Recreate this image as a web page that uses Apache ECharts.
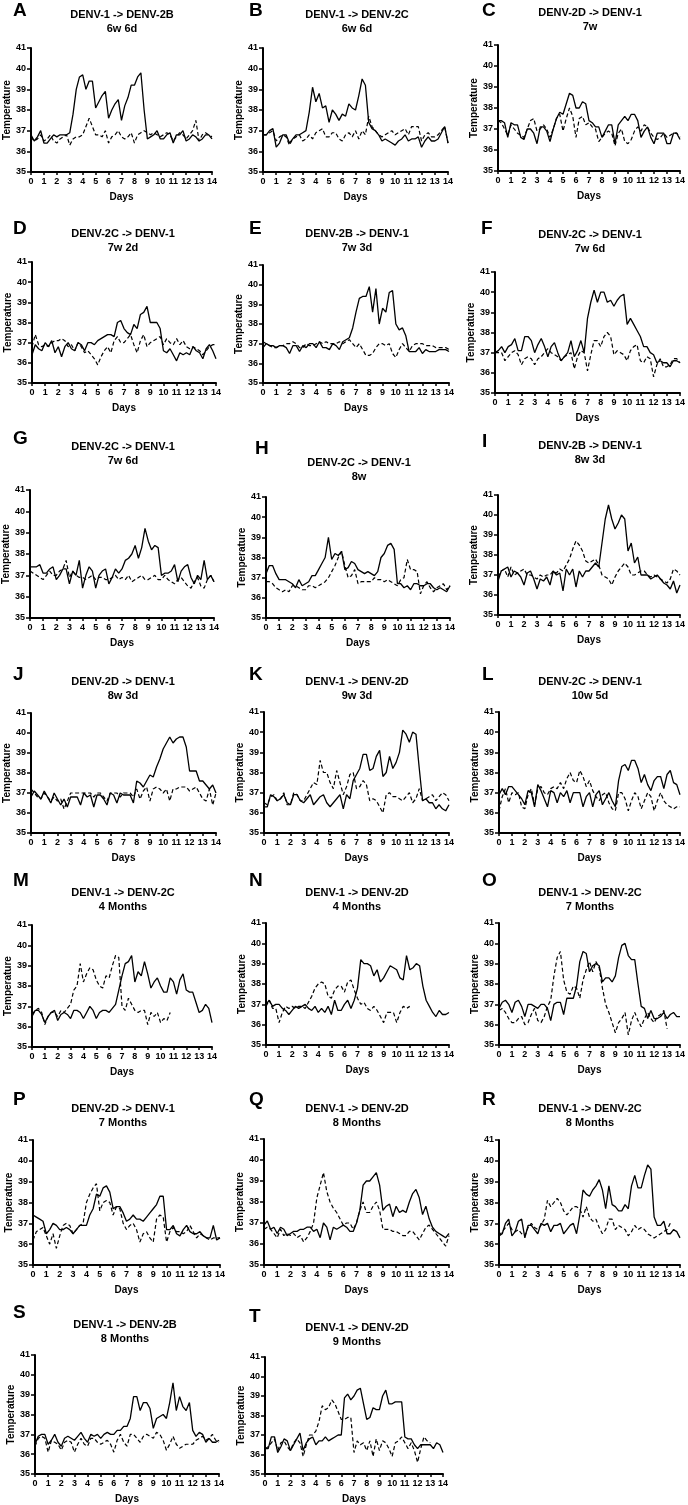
<!DOCTYPE html>
<html>
<head>
<meta charset="utf-8">
<script src="https://cdn.jsdelivr.net/npm/echarts@6/dist/echarts.min.js"></script>
<style>
html,body{margin:0;padding:0;background:#fff;}
#chart{width:688px;height:1505px;}
</style>
</head>
<body>
<div id="chart"></div>
<script>
// ---------- DATA ----------
const STEP_DAYS = 0.25; // one reading every 6 hours
const panelLetters = ["A","B","C","D","E","F","G","H","I","J","K","L","M","N","O","P","Q","R","S","T"];
const titleLine1 = ["DENV-1 -> DENV-2B","DENV-1 -> DENV-2C","DENV-2D -> DENV-1","DENV-2C -> DENV-1","DENV-2B -> DENV-1","DENV-2C -> DENV-1","DENV-2C -> DENV-1","DENV-2C -> DENV-1","DENV-2B -> DENV-1","DENV-2D -> DENV-1","DENV-1 -> DENV-2D","DENV-2C -> DENV-1","DENV-1 -> DENV-2C","DENV-1 -> DENV-2D","DENV-1 -> DENV-2C","DENV-2D -> DENV-1","DENV-1 -> DENV-2D","DENV-1 -> DENV-2C","DENV-1 -> DENV-2B","DENV-1 -> DENV-2D"];
const titleLine2 = ["6w 6d","6w 6d","7w","7w 2d","7w 3d","7w 6d","7w 6d","8w","8w 3d","8w 3d","9w 3d","10w 5d","4 Months","4 Months","7 Months","7 Months","8 Months","8 Months","8 Months","9 Months"];
const dayTicks = [0,14,1];      // min, max, step of the Days axis
const tempTicks = [35,41,1];    // min, max, step of the Temperature axis

const A_solid = [36.8,36.5,36.7,37.0, 36.4,36.4,36.6,36.8, 36.7,36.8,36.8,36.8, 36.9,37.8,39.0,39.6, 39.7,39.0,39.4,39.4, 38.1,38.4,38.7,38.9, 37.6,38.0,38.3,38.5, 37.5,38.2,38.6,39.2, 39.2,39.6,39.8,38.0, 36.6,36.7,36.8,37.0, 36.6,36.6,36.8,36.9, 36.4,36.8,36.8,37.0, 36.5,36.6,36.8,36.7, 36.5,36.6,36.8,36.8, 36.6];
const A_dashed = [36.7,36.5,36.6,36.8, 36.5,36.6,36.8,36.5, 36.4,36.6,36.7,36.8, 36.3,36.6,36.7,36.7, 36.8,37.2,37.6,37.2, 36.8,36.8,36.7,37.0, 36.4,36.7,36.8,37.0, 36.7,36.6,36.7,36.9, 36.4,36.8,36.9,37.0, 36.9,36.8,36.9,36.8, 36.7,36.8,36.9,36.8, 36.5,36.7,36.9,36.8, 36.6,36.8,37.0,37.5, 36.5,36.8,36.9,36.8, 36.7];
const B_solid = [36.8,36.8,37.0,37.1, 36.2,36.4,36.8,36.8, 36.4,36.6,36.8,36.8, 36.9,37.0,37.9,39.1, 38.4,38.8,38.1,38.2, 37.4,38.0,37.8,37.5, 37.8,37.7,38.3,38.1, 38.0,38.7,39.5,39.2, 37.4,37.1,37.0,36.8, 36.5,36.6,36.5,36.4, 36.3,36.5,36.6,36.8, 36.5,36.6,36.6,36.7, 36.2,36.5,36.7,36.5, 36.5,36.6,36.9,37.2, 36.4];
const B_dashed = [36.8,36.8,36.9,37.0, 36.5,36.7,36.8,36.7, 36.3,36.6,36.7,36.8, 36.5,36.6,36.8,36.6, 36.9,37.0,37.1,36.7, 36.7,36.9,36.9,36.6, 36.5,36.8,36.9,36.7, 37.0,36.6,37.0,36.8, 37.7,37.2,37.0,36.8, 36.7,36.8,36.9,37.0, 36.8,36.9,37.0,37.1, 36.8,37.2,37.2,37.2, 36.5,36.8,36.9,36.7, 36.7,36.8,37.0,37.2, 36.4];
const C_solid = [37.4,37.4,37.3,36.6, 37.3,37.2,37.2,36.6, 36.5,37.0,37.0,36.8, 36.3,37.1,37.1,36.9, 36.4,37.0,37.5,37.8, 37.7,38.2,38.7,38.6, 38.0,38.0,38.3,38.2, 37.4,37.3,37.1,37.1, 36.6,36.9,37.2,37.2, 36.3,37.2,37.4,37.6, 37.4,37.7,37.7,37.4, 36.6,36.9,37.1,36.6, 36.3,36.8,36.8,36.8, 36.3,36.3,36.8,36.8, 36.5];
const C_dashed = [37.4,37.3,37.0,36.7, 37.2,37.0,36.8,36.7, 36.6,37.0,37.4,37.5, 36.9,37.0,37.2,37.0, 36.6,37.0,37.5,37.7, 36.9,37.5,38.0,37.6, 36.6,37.5,37.6,37.2, 37.3,37.1,37.0,36.4, 36.6,36.8,36.9,36.8, 36.2,36.8,37.0,36.4, 36.3,36.5,36.9,37.1, 36.9,37.2,37.1,36.8, 36.6,36.5,36.6,36.8, 36.6,36.7,36.8,36.8, 36.6];
const D_solid = [36.4,36.9,36.7,36.6, 37.0,36.8,37.1,36.5, 36.8,36.3,36.8,37.0, 36.7,36.6,37.0,36.9, 36.6,37.0,37.0,36.9, 37.1,37.2,37.3,37.4, 37.4,37.3,38.0,38.1, 37.7,37.5,37.4,37.9, 37.7,38.4,38.5,38.8, 38.0,38.0,38.0,37.7, 36.6,36.5,36.7,36.4, 36.1,36.5,36.4,36.5, 36.4,36.8,36.6,36.5, 36.2,36.7,36.9,36.6, 36.2];
const D_dashed = [36.8,37.4,36.9,36.8, 36.9,36.8,37.0,37.1, 37.1,37.2,37.1,36.8, 36.9,36.6,37.0,36.8, 36.5,36.6,36.4,36.2, 35.9,36.3,36.6,36.8, 36.5,37.1,37.3,37.0, 37.0,37.2,37.4,36.9, 36.5,37.1,37.4,36.8, 37.0,37.1,37.2,37.3, 36.9,37.2,37.0,36.9, 37.2,36.9,37.1,36.8, 36.7,36.8,36.7,36.6, 36.4,36.6,36.8,36.9, 36.9];
const E_solid = [36.8,37.0,36.9,36.9, 36.8,36.9,36.9,36.8, 36.5,36.9,36.9,36.6, 36.9,36.8,37.0,37.0, 36.8,37.1,36.8,36.8, 36.7,37.0,36.9,36.7, 37.1,37.2,37.3,37.8, 38.6,39.3,39.4,39.4, 39.9,38.6,39.8,38.0, 38.8,38.6,39.6,39.7, 38.0,37.7,37.8,37.4, 36.6,36.6,36.6,36.8, 36.5,36.7,36.6,36.6, 36.6,36.7,36.7,36.7, 36.6];
const E_dashed = [37.1,37.0,36.9,36.8, 36.8,36.9,36.9,37.0, 37.0,37.1,37.0,36.8, 36.8,37.0,36.9,36.9, 37.0,37.1,37.0,37.1, 37.0,37.0,37.0,37.1, 37.0,37.1,37.2,37.0, 36.8,37.0,36.7,36.4, 36.4,36.5,36.8,37.0, 37.0,36.9,37.0,36.5, 36.3,36.7,37.0,36.8, 36.6,36.9,37.0,37.0, 37.0,36.9,36.9,36.9, 36.8,36.8,36.8,36.8, 36.7];
const F_solid = [37.0,37.1,37.3,37.0, 37.3,37.4,37.7,37.1, 37.1,37.8,37.8,37.6, 37.0,37.4,37.7,37.3, 36.8,37.3,37.5,37.0, 36.6,36.8,37.0,37.6, 36.8,37.1,37.6,37.0, 38.7,39.5,40.1,39.5, 40.0,40.0,39.5,39.6, 39.3,39.6,39.8,39.9, 38.4,38.7,38.4,38.1, 37.8,37.3,37.3,37.0, 36.9,36.5,36.6,36.5, 36.5,36.3,36.6,36.6, 36.5];
const F_dashed = [37.0,37.0,37.0,36.6, 36.8,37.0,37.1,36.9, 36.4,36.7,36.8,36.7, 36.4,36.7,36.8,37.0, 37.2,37.0,36.9,36.8, 36.6,36.8,36.9,37.0, 36.2,36.8,37.1,37.0, 36.1,36.9,37.6,37.6, 37.3,37.8,38.0,37.8, 36.9,37.1,37.0,36.9, 36.6,37.1,37.3,37.4, 36.6,36.5,36.8,36.7, 35.8,36.4,36.7,36.3, 36.3,36.4,36.7,36.7, 36.5];
const G_solid = [37.4,37.4,37.4,37.5, 37.1,37.1,37.3,37.4, 36.8,37.0,37.3,37.3, 36.6,37.2,37.0,37.7, 36.4,37.0,37.4,37.2, 36.4,37.0,37.2,37.3, 36.6,36.9,37.3,37.1, 37.3,37.7,37.8,38.0, 38.4,37.8,38.3,39.2, 38.6,38.2,38.4,38.3, 37.0,37.1,37.1,37.2, 37.5,36.7,37.2,37.4, 37.5,36.9,36.6,37.0, 36.8,37.7,36.8,37.0, 36.7];
const G_dashed = [37.2,37.1,37.0,36.9, 36.8,37.0,37.2,37.0, 37.0,37.2,37.3,37.7, 36.9,37.2,37.0,36.9, 36.9,36.8,36.9,37.0, 36.8,36.9,36.9,36.8, 36.8,36.9,37.0,36.8, 36.9,36.8,37.0,36.7, 36.8,36.9,37.0,36.8, 36.8,36.9,37.0,36.8, 36.8,37.0,36.8,36.7, 36.6,36.8,36.9,36.7, 36.5,36.4,36.7,36.9, 36.5,36.4,36.8,37.0, 36.7];
const H_solid = [37.2,37.6,37.6,37.2, 36.9,36.9,36.9,36.8, 36.7,36.5,36.9,36.6, 36.7,36.8,37.1,37.1, 37.4,37.7,38.0,39.0, 37.9,38.2,38.1,38.3, 37.4,37.5,37.8,37.7, 37.4,37.3,37.2,37.3, 37.2,37.1,37.3,38.0, 38.2,38.6,38.7,38.4, 36.7,36.7,36.5,36.6, 36.4,36.7,36.7,36.6, 36.6,36.7,36.7,36.5, 36.4,36.5,36.4,36.3, 36.6];
const H_dashed = [36.8,36.8,36.7,36.5, 36.4,36.3,36.4,36.3, 36.6,36.6,36.5,36.4, 36.4,36.6,36.6,36.5, 36.6,36.7,36.8,37.0, 37.3,37.6,38.0,38.3, 37.6,37.0,37.1,37.4, 36.7,36.8,36.8,36.8, 36.8,37.0,36.9,36.9, 36.8,36.9,36.8,36.7, 36.6,36.9,37.0,37.9, 37.4,37.4,37.3,36.2, 36.6,36.8,36.5,36.3, 36.5,36.6,36.7,36.4, 36.6];
const I_solid = [36.7,37.2,37.3,37.4, 36.9,37.2,37.1,36.9, 36.5,37.1,37.2,36.8, 36.3,36.8,36.7,36.9, 36.5,37.2,37.0,37.1, 36.2,37.3,37.0,37.3, 36.4,37.2,36.9,37.2, 37.2,37.4,37.6,37.4, 38.6,39.8,40.5,39.8, 39.3,39.6,40.0,39.8, 38.2,38.6,37.6,37.9, 37.0,37.0,37.0,36.8, 36.9,37.0,36.8,36.6, 36.5,36.3,36.7,36.1, 36.5];
const I_dashed = [36.9,37.2,37.3,36.9, 37.4,37.0,37.1,37.2, 37.3,37.0,37.0,36.9, 36.8,37.0,36.9,37.0, 37.0,37.2,37.1,37.3, 37.2,37.5,37.8,38.3, 38.7,38.5,38.2,37.7, 37.6,37.7,37.8,37.5, 37.0,36.9,36.8,36.5, 36.9,37.2,37.4,37.6, 37.4,37.0,37.0,37.1, 37.2,37.2,37.0,36.9, 37.0,36.9,36.8,36.7, 36.6,36.8,37.3,37.2, 37.0];
const J_solid = [36.8,37.1,36.9,36.7, 37.1,36.8,36.5,37.0, 36.7,36.4,36.7,36.3, 36.8,36.8,36.8,36.4, 37.0,36.8,36.9,36.3, 36.9,36.9,36.7,36.4, 37.0,36.9,36.5,37.0, 36.9,36.9,36.9,36.5, 37.6,37.5,37.3,37.6, 37.9,37.8,38.3,38.7, 39.2,39.5,39.8,39.5, 39.7,39.8,39.8,39.3, 38.1,38.1,38.1,37.6, 37.6,37.4,37.2,37.4, 37.0];
const J_dashed = [37.2,37.0,36.8,36.7, 37.0,36.8,36.6,36.8, 36.6,36.7,36.2,36.6, 37.0,37.0,37.0,37.0, 37.0,37.0,37.0,36.8, 37.0,37.0,36.8,36.6, 37.0,37.0,37.0,36.8, 37.0,37.0,37.0,36.8, 37.2,36.7,37.1,37.3, 36.6,37.2,37.3,37.2, 37.0,37.2,36.6,37.2, 37.2,37.3,37.3,37.3, 37.1,37.2,37.3,37.0, 36.7,36.6,37.2,36.4, 37.0];
const K_solid = [36.3,36.3,36.9,36.8, 36.6,36.7,36.9,36.5, 36.4,36.9,36.9,36.6, 36.5,36.7,36.9,36.4, 36.6,36.8,36.9,36.5, 36.3,36.5,36.7,36.9, 36.2,36.9,36.7,37.6, 37.9,38.2,38.9,38.9, 38.1,38.2,38.8,39.1, 37.8,38.0,38.8,38.2, 38.5,39.0,40.1,39.9, 39.5,40.0,39.9,38.2, 36.6,36.7,36.5,36.5, 36.2,36.4,36.2,36.1, 36.4];
const K_dashed = [36.5,36.4,36.8,36.9, 36.6,36.7,37.0,36.4, 36.4,37.0,36.9,36.6, 36.6,36.9,37.2,37.5, 37.4,38.6,38.0,38.0, 37.5,37.2,38.1,37.5, 36.9,37.3,37.9,38.0, 37.2,37.3,37.6,37.4, 36.6,36.7,36.6,36.3, 36.0,36.9,37.0,36.8, 36.8,36.7,36.6,36.8, 37.0,36.5,36.7,37.2, 36.6,36.7,36.8,36.9, 36.6,36.8,37.0,36.9, 36.6];
const L_solid = [36.9,37.2,36.9,37.3, 37.3,37.1,36.9,36.7, 36.4,37.1,37.0,36.3, 37.4,37.1,36.7,36.3, 37.1,37.0,36.5,37.0, 36.8,37.1,36.5,37.0, 37.0,37.0,36.3,36.8, 37.0,36.3,36.9,37.1, 36.4,36.7,37.0,36.6, 36.3,37.6,38.3,38.4, 38.1,38.6,38.6,38.2, 37.5,37.9,37.4,37.1, 37.6,37.8,37.8,37.2, 37.9,38.1,37.5,37.4, 36.9];
const L_dashed = [36.1,36.8,37.2,36.5, 37.0,36.9,37.0,36.3, 36.2,36.9,37.2,36.4, 37.2,37.3,37.0,36.9, 37.2,37.3,37.2,37.5, 37.2,37.7,38.0,37.6, 37.5,38.1,37.8,37.3, 37.6,37.1,36.8,36.6, 36.9,37.0,36.5,36.2, 36.1,37.0,37.0,36.7, 36.1,36.6,37.0,36.8, 36.2,36.6,37.0,36.8, 36.1,36.6,37.0,36.6, 36.4,36.3,36.2,36.3, 36.3];
const M_solid = [36.5,36.8,36.8,36.6, 36.2,36.5,36.7,36.8, 36.3,36.6,36.7,36.6, 36.4,36.8,36.8,36.7, 36.4,36.7,37.0,36.8, 36.4,36.7,36.8,36.8, 36.7,36.9,37.1,37.8, 38.5,39.1,39.2,39.5, 38.2,38.7,38.5,39.2, 38.6,37.9,38.2,38.4, 38.0,37.7,37.7,38.4, 38.2,37.6,38.3,38.6, 37.8,37.7,37.7,37.2, 36.7,36.8,37.1,36.9, 36.2];
const M_dashed = [36.6,36.8,36.9,36.7, 36.1,36.5,36.7,36.7, 36.5,36.8,36.7,36.9, 37.1,37.8,38.0,39.1, 38.2,38.6,38.9,38.8, 38.3,38.0,37.9,38.5, 38.4,39.0,39.5,39.4, 37.0,36.8,37.4,37.1, 36.8,36.7,36.8,36.8, 36.1,36.7,36.5,36.7, 36.2,36.4,36.3,36.7];
const N_solid = [37.0,37.2,36.9,37.0, 37.0,36.8,36.7,36.5, 36.7,36.9,36.8,36.9, 37.0,36.8,36.7,36.9, 36.6,36.8,36.6,36.9, 36.5,37.2,36.7,36.7, 37.0,37.2,36.8,37.2, 37.8,39.2,39.0,39.0, 38.9,38.4,38.7,38.1, 38.3,38.6,38.9,38.8, 38.7,38.3,38.2,39.4, 38.7,38.8,39.0,38.9, 37.9,37.2,36.9,36.6, 36.4,36.7,36.5,36.5, 36.6];
const N_dashed = [36.9,37.2,36.8,36.8, 36.1,36.6,36.9,36.8, 36.9,36.8,36.9,36.9, 36.8,37.1,37.4,37.8, 38.0,38.1,38.0,37.4, 37.3,37.7,37.9,37.9, 37.6,38.1,38.2,37.7, 37.3,37.0,37.1,36.8, 36.7,36.9,36.7,36.4, 36.1,36.6,36.6,36.6, 36.1,36.6,36.9,36.8, 36.9];
const O_solid = [36.8,37.1,37.2,37.0, 36.6,37.1,37.2,36.9, 36.4,37.0,37.0,36.9, 36.8,37.0,37.0,36.8, 36.2,37.0,37.1,37.1, 36.5,37.3,37.3,37.3, 37.9,39.1,39.6,39.5, 38.6,38.9,39.0,38.9, 38.1,38.3,38.3,38.1, 38.4,39.3,39.9,40.0, 39.4,39.2,39.2,38.0, 36.9,36.8,36.3,36.7, 36.3,36.3,36.4,36.6, 36.3,36.5,36.6,36.4, 36.4];
const O_dashed = [36.7,36.8,36.6,36.3, 36.1,36.1,36.3,36.4, 36.0,36.1,36.5,36.8, 36.2,36.1,36.4,36.9, 37.2,38.4,39.3,39.6, 38.2,37.6,37.5,37.9, 37.8,37.3,38.2,38.7, 39.1,38.6,39.1,38.8, 37.8,37.0,36.6,36.1, 35.6,36.1,36.3,36.6, 35.5,36.2,36.6,36.2, 35.9,36.3,36.6,36.3, 36.1,36.4,36.5,36.7, 35.8];
const P_solid = [37.4,37.3,37.2,37.1, 36.5,36.7,37.0,36.9, 36.7,36.7,36.8,36.7, 36.5,36.7,36.9,36.9, 36.9,37.4,37.7,38.4, 38.3,38.7,38.8,38.5, 37.7,37.8,37.8,37.5, 37.1,37.2,37.4,37.2, 37.2,37.1,37.3,37.5, 37.7,37.9,38.3,38.3, 36.7,36.7,36.9,36.5, 36.4,36.7,36.9,36.6, 36.5,36.5,36.6,36.4, 36.3,36.3,36.9,36.2, 36.3];
const P_dashed = [36.2,36.6,36.7,36.8, 36.4,36.0,36.5,35.8, 36.4,36.9,37.0,36.9, 36.5,36.7,36.9,37.0, 38.0,38.4,38.7,38.9, 37.6,38.0,38.1,38.0, 37.4,37.8,37.7,37.0, 36.7,36.9,37.0,36.7, 36.1,36.5,36.6,36.3, 36.1,37.2,37.4,37.3, 36.1,36.6,36.8,36.6, 36.6,36.5,36.6,36.9, 36.6,36.3,36.5,36.4, 36.3,36.2,36.3,36.3, 36.3];
const Q_solid = [36.9,37.1,36.7,36.8, 36.5,36.8,36.7,36.4, 36.5,36.6,36.6,36.7, 36.7,36.8,36.8,36.6, 36.7,36.3,37.0,36.8, 36.2,36.8,36.7,36.8, 36.9,36.8,36.6,36.6, 37.0,37.6,38.8,39.0, 39.0,39.2,39.4,38.8, 37.6,37.8,37.9,37.3, 37.8,37.5,37.6,37.5, 38.0,38.4,38.6,38.2, 37.4,37.8,37.2,36.8, 36.6,36.5,36.4,36.3, 36.5];
const Q_dashed = [36.7,36.8,36.7,36.5, 36.3,36.7,36.4,36.5, 36.4,36.5,36.3,36.4, 36.1,36.3,36.6,37.0, 38.2,38.8,39.4,38.5, 38.0,37.7,37.5,37.2, 36.9,37.0,37.0,36.7, 37.0,37.6,38.0,37.5, 37.5,37.8,38.0,37.6, 36.7,36.7,36.7,36.6, 36.6,36.5,36.4,36.4, 36.6,36.6,36.4,36.2, 36.5,36.8,36.9,36.7, 36.5,36.3,36.1,35.9, 36.4];
const R_solid = [36.4,36.5,37.0,37.2, 36.4,36.6,37.1,37.2, 36.3,36.9,36.9,36.7, 36.5,37.0,36.9,37.0, 36.6,36.9,36.9,37.0, 36.5,36.7,36.9,37.0, 36.5,37.4,38.6,38.4, 38.3,38.6,38.8,39.1, 38.6,37.7,38.8,37.9, 37.8,37.6,37.6,37.9, 37.7,38.8,39.3,38.7, 38.7,39.3,39.8,39.6, 37.3,36.9,36.9,37.1, 36.5,36.5,36.7,36.6, 36.3];
const R_dashed = [36.4,36.6,36.8,37.0, 36.7,36.6,36.7,36.5, 36.4,36.8,37.0,36.8, 36.7,36.9,37.2,38.1, 37.8,38.0,38.2,38.0, 37.6,37.4,37.6,37.8, 37.8,37.7,37.3,37.8, 37.3,37.1,37.2,36.8, 36.5,36.7,37.2,37.2, 36.7,36.9,36.8,36.7, 36.4,36.6,36.9,36.7, 36.8,36.7,36.5,36.4, 36.3,36.4,36.5,36.6, 36.7,37.0];
const S_solid = [36.5,36.9,37.0,37.0, 36.5,36.7,37.0,36.6, 36.4,36.8,36.9,36.8, 36.7,36.9,37.1,36.8, 36.6,37.0,36.9,37.0, 36.8,37.0,37.1,37.0, 37.0,37.2,37.2,37.4, 37.4,37.8,38.9,38.9, 38.2,38.6,38.6,38.3, 37.3,37.8,37.9,38.0, 37.8,38.6,39.6,38.2, 38.9,38.4,38.2,38.6, 37.2,36.9,37.1,37.0, 36.6,36.8,36.6,36.6, 36.7];
const S_dashed = [36.4,36.8,36.9,36.8, 36.1,36.7,36.6,36.5, 36.2,36.6,36.7,36.6, 36.1,36.5,36.8,36.5, 36.4,36.8,36.8,36.6, 36.5,36.6,36.7,36.5, 36.1,36.7,37.0,36.6, 36.4,37.0,37.0,36.8, 36.6,36.9,37.0,36.9, 36.8,37.1,37.0,36.7, 36.2,36.5,36.9,36.5, 36.3,36.4,36.5,36.5, 36.5,36.7,36.8,36.9, 36.7,36.8,37.0,36.7, 36.6];
const T_solid = [36.3,36.3,36.9,36.9, 36.1,36.4,36.8,36.7, 36.2,36.5,36.8,37.1, 36.2,36.6,36.8,36.9, 36.5,36.7,36.7,36.9, 36.7,36.8,36.9,37.0, 37.0,38.9,39.1,38.8, 39.0,39.3,39.4,38.6, 37.8,37.9,38.4,38.3, 38.3,39.0,39.3,38.6, 38.6,38.7,38.7,38.7, 36.9,36.8,36.8,36.5, 36.3,36.5,36.5,36.5, 36.5,36.3,36.6,36.5, 36.1];
const T_dashed = [36.3,36.4,36.6,36.8, 36.2,36.6,36.7,36.4, 36.2,36.6,36.8,36.6, 35.9,36.5,37.0,37.0, 37.2,37.7,38.5,38.3, 38.4,38.8,38.6,38.2, 37.8,37.8,37.9,37.9, 36.1,36.7,36.5,36.6, 36.2,36.7,35.9,36.8, 36.2,36.7,36.6,36.3, 35.9,36.6,36.7,36.9, 36.6,36.3,36.6,36.2, 35.6,36.3,36.9,36.7, 36.6];

const solidSeries = [A_solid,B_solid,C_solid,D_solid,E_solid,F_solid,G_solid,H_solid,I_solid,J_solid,K_solid,L_solid,M_solid,N_solid,O_solid,P_solid,Q_solid,R_solid,S_solid,T_solid];
const dashedSeries = [A_dashed,B_dashed,C_dashed,D_dashed,E_dashed,F_dashed,G_dashed,H_dashed,I_dashed,J_dashed,K_dashed,L_dashed,M_dashed,N_dashed,O_dashed,P_dashed,Q_dashed,R_dashed,S_dashed,T_dashed];

// ---------- LAYOUT (pixel boxes: plot left, right, top, bottom; letter x,y; title x,y) ----------
const panelBoxes = [
  [31,212,48,172, 13,4, 122,15],
  [263,448,48,172, 249,4, 357,15],
  [498,681,45,171, 482,4, 590,13],
  [32,216,262,383, 13,222, 123,234],
  [263,449,265,383, 249,222, 357,234],
  [495,682,272,393, 481,222, 590,235],
  [30,214,490,618, 13,432, 123,447],
  [266,450,497,618, 255,442, 359,463],
  [498,682,495,615, 482,435, 590,446],
  [31,216,713,833, 13,668, 123,682],
  [264,449,712,833, 249,668, 357,682],
  [499,682,712,833, 482,668, 590,682],
  [32,212,925,1047, 13,874, 123,893],
  [266,449,923,1045, 249,874, 357,893],
  [499,682,923,1045, 482,874, 590,893],
  [33,220,1140,1265, 13,1093, 123,1109],
  [264,449,1139,1265, 249,1093, 357,1109],
  [499,682,1140,1265, 482,1093, 590,1109],
  [35,219,1355,1476, 13,1306, 125,1325],
  [265,443,1357,1476, 249,1310, 357,1328]
];

const FONT = "'Liberation Sans', Arial, sans-serif";
const grids = [], xAxes = [], yAxes = [], series = [], graphics = [];

panelBoxes.forEach((b, i) => {
  const [l, r, t, bt, lx, ly, tx, ty] = b;
  grids.push({ left: l, top: t, width: r - l, height: bt - t, containLabel: false });
  xAxes.push({
    gridIndex: i, type: 'value', min: dayTicks[0], max: dayTicks[1], interval: dayTicks[2],
    name: 'Days', nameLocation: 'middle', nameGap: 20,
    nameTextStyle: { fontFamily: FONT, fontWeight: 'bold', fontSize: 10, color: '#000' },
    axisLine: { show: true, onZero: false, lineStyle: { color: '#000', width: 2 } },
    axisTick: { show: true, length: 3, lineStyle: { color: '#000', width: 1.5 } },
    axisLabel: { show: true, fontFamily: FONT, fontWeight: 'bold', fontSize: 9, color: '#000', margin: 5, hideOverlap: false },
    splitLine: { show: false }
  });
  yAxes.push({
    gridIndex: i, type: 'value', min: tempTicks[0], max: tempTicks[1], interval: tempTicks[2],
    name: 'Temperature', nameLocation: 'middle', nameGap: 19,
    nameTextStyle: { fontFamily: FONT, fontWeight: 'bold', fontSize: 10, color: '#000' },
    axisLine: { show: true, onZero: false, lineStyle: { color: '#000', width: 2 } },
    axisTick: { show: true, length: 4, lineStyle: { color: '#000', width: 1.5 } },
    axisLabel: { show: true, fontFamily: FONT, fontWeight: 'bold', fontSize: 9, color: '#000', margin: 5 },
    splitLine: { show: false }
  });
  series.push({
    type: 'line', xAxisIndex: i, yAxisIndex: i, showSymbol: false, silent: true,
    data: solidSeries[i].map((v, k) => [k * STEP_DAYS, v]),
    lineStyle: { color: '#000', width: 1.3, type: 'solid' }
  });
  series.push({
    type: 'line', xAxisIndex: i, yAxisIndex: i, showSymbol: false, silent: true,
    data: dashedSeries[i].map((v, k) => [k * STEP_DAYS, v]),
    lineStyle: { color: '#000', width: 1.2, type: [4, 2.5] }
  });
  graphics.push({
    type: 'text', x: lx, y: ly - 3,
    style: { text: panelLetters[i], font: "bold 19px " + FONT, fill: '#000', textAlign: 'left', textVerticalAlign: 'top' }
  });
  graphics.push({
    type: 'text', x: tx, y: ty,
    style: { text: titleLine1[i], font: "bold 11px " + FONT, fill: '#000', textAlign: 'center', textVerticalAlign: 'middle' }
  });
  graphics.push({
    type: 'text', x: tx, y: ty + 14,
    style: { text: titleLine2[i], font: "bold 11px " + FONT, fill: '#000', textAlign: 'center', textVerticalAlign: 'middle' }
  });
});

const chart = echarts.init(document.getElementById('chart'), null, { renderer: 'canvas' });
chart.setOption({
  backgroundColor: '#fff',
  animation: false,
  grid: grids,
  xAxis: xAxes,
  yAxis: yAxes,
  series: series,
  graphic: graphics
});
</script>
</body>
</html>
